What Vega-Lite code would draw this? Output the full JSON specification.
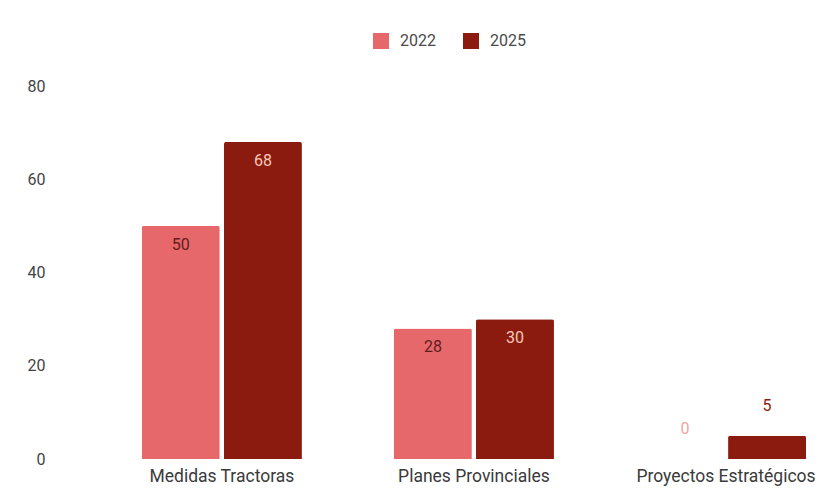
{
  "$schema": "https://vega.github.io/schema/vega-lite/v6.json",
  "autosize": {"type": "none"},
  "padding": {"left": 60, "top": 86, "right": 0, "bottom": 34},
  "width": 764,
  "height": 373,
  "background": "white",
  "config": {
    "view": {"stroke": null},
    "font": "Roboto",
    "axis": {"labelFont": "Roboto", "grid": false, "domain": false, "ticks": false, "tickSize": 0},
    "legend": {"labelFont": "Roboto"}
  },
  "data": {
    "values": [
      {"categoria": "Medidas Tractoras", "anio": "2022", "valor": 50},
      {"categoria": "Medidas Tractoras", "anio": "2025", "valor": 68},
      {"categoria": "Planes Provinciales", "anio": "2022", "valor": 28},
      {"categoria": "Planes Provinciales", "anio": "2025", "valor": 30},
      {"categoria": "Proyectos Estratégicos", "anio": "2022", "valor": 0},
      {"categoria": "Proyectos Estratégicos", "anio": "2025", "valor": 5}
    ]
  },
  "encoding": {
    "x": {
      "field": "categoria", "type": "nominal", "sort": null,
      "scale": {"paddingInner": 0.365, "paddingOuter": 0.198, "align": 0.82},
      "axis": {"title": null, "labelAngle": 0, "labelFontSize": 17.5, "labelColor": "#3a3a3a", "labelPadding": 8, "labelLimit": 400, "labelOverlap": false}
    },
    "xOffset": {"field": "anio", "type": "nominal", "scale": {"paddingInner": 0.05, "paddingOuter": 0}},
    "y": {
      "field": "valor", "type": "quantitative",
      "scale": {"domain": [0, 80]},
      "axis": {"title": null, "values": [0, 20, 40, 60, 80], "labelFontSize": 16, "labelColor": "#444444", "labelPadding": 15}
    }
  },
  "layer": [
    {
      "mark": {"type": "bar", "cornerRadiusTopLeft": 2, "cornerRadiusTopRight": 2},
      "encoding": {
        "color": {
          "field": "anio", "type": "nominal",
          "scale": {"domain": ["2022", "2025"], "range": ["#e6686a", "#8c1b0f"]},
          "legend": {
            "title": null, "orient": "none", "direction": "horizontal",
            "legendX": 313, "legendY": -53,
            "symbolType": "square", "symbolSize": 256, "symbolStrokeWidth": 0,
            "labelFontSize": 16, "labelColor": "#4a4a4a", "labelOffset": 11, "columnPadding": 27
          }
        }
      }
    },
    {
      "transform": [{"filter": "datum.valor >= 10"}],
      "mark": {"type": "text", "dy": 19, "fontSize": 16, "baseline": "middle"},
      "encoding": {
        "text": {"field": "valor", "type": "quantitative"},
        "color": {"condition": {"test": "datum.anio == '2022'", "value": "#641b20"}, "value": "#f8c8b8"}
      }
    },
    {
      "transform": [{"filter": "datum.valor < 10"}],
      "mark": {"type": "text", "dy": -30, "fontSize": 16, "baseline": "middle"},
      "encoding": {
        "text": {"field": "valor", "type": "quantitative"},
        "color": {"condition": {"test": "datum.anio == '2022'", "value": "#f0a4a4"}, "value": "#8c1b0f"}
      }
    }
  ]
}
